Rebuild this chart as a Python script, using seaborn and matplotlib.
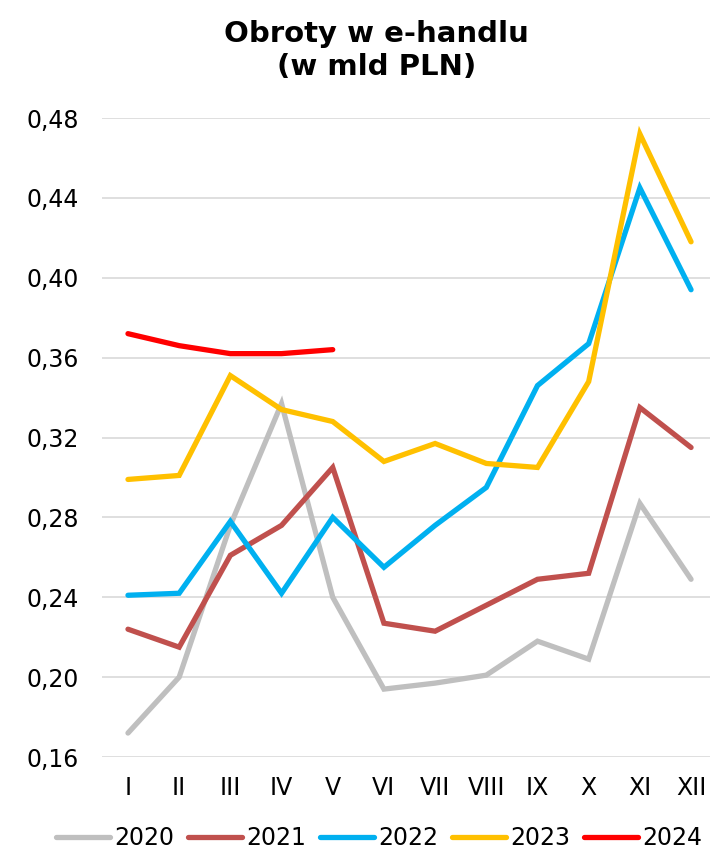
import pandas as pd
import numpy as np
import seaborn as sns
import matplotlib.pyplot as plt
from matplotlib.ticker import FuncFormatter

months = ['I', 'II', 'III', 'IV', 'V', 'VI', 'VII', 'VIII', 'IX', 'X', 'XI', 'XII']
years = ['2020', '2021', '2022', '2023', '2024']
v2020 = [0.172, 0.200, 0.276, 0.337, 0.240, 0.194, 0.197, 0.201, 0.218, 0.209, 0.287, 0.249]
v2021 = [0.224, 0.215, 0.261, 0.276, 0.305, 0.227, 0.223, 0.236, 0.249, 0.252, 0.335, 0.315]
v2022 = [0.241, 0.242, 0.278, 0.242, 0.280, 0.255, 0.276, 0.295, 0.346, 0.367, 0.445, 0.394]
v2023 = [0.299, 0.301, 0.351, 0.334, 0.328, 0.308, 0.317, 0.307, 0.305, 0.348, 0.472, 0.418]
v2024 = [0.372, 0.366, 0.362, 0.362, 0.364]
colors = ['#BFBFBF', '#C0504D', '#00B0F0', '#FFC000', '#FF0000']

# long form table
rows = []
for y, vals in zip(years, [v2020, v2021, v2022, v2023, v2024]):
    for i, v in enumerate(vals):
        rows.append({'rok': y, 'mies': i, 'obroty': v})
df = pd.DataFrame(rows)

sns.set_style('white')
plt.rcParams['font.family'] = ['DejaVu Sans']
plt.rcParams['text.color'] = '#000000'

fig = plt.figure(figsize=(7.1, 8.52), dpi=100)
ax = fig.add_axes([0.1442, 0.1115, 0.8558, 0.75])

sns.lineplot(data=df, x='mies', y='obroty', hue='rok', hue_order=years,
             palette=colors, linewidth=3.8, ax=ax, legend=False)
for ln in ax.lines:
    ln.set_solid_capstyle('round')
    ln.set_solid_joinstyle('miter')
    ln.set_clip_on(False)

ax.set_ylim(0.16, 0.48)
ax.set_yticks(np.arange(0.16, 0.481, 0.04))
ax.yaxis.set_major_formatter(FuncFormatter(lambda v, p: f"{v:.2f}".replace('.', ',')))
ax.set_xlim(-0.5, 11.37)
ax.set_xticks(range(12))
ax.set_xticklabels(months)
ax.set_xlabel('')
ax.set_ylabel('')
ax.yaxis.grid(True, color='#D9D9D9', linewidth=1.2)
ax.set_axisbelow(True)
for s in ax.spines.values():
    s.set_visible(False)
ax.tick_params(axis='y', length=0, pad=17, labelsize=17, labelcolor='#000000')
ax.tick_params(axis='x', length=0, pad=14, labelsize=17, labelcolor='#000000')

fig.text(0.53, 0.976, 'Obroty w e-handlu\n(w mld PLN)', ha='center', va='top',
         fontsize=21, fontweight='bold', linespacing=1.2, color='#000000')

fig.legend(ax.lines[:5], years, loc='center', bbox_to_anchor=(0.534, 0.0164),
           ncol=5, frameon=False, fontsize=17, handlelength=2.3,
           handletextpad=0.2, columnspacing=0.55, borderaxespad=0)

fig.savefig('out.png', dpi=100)
